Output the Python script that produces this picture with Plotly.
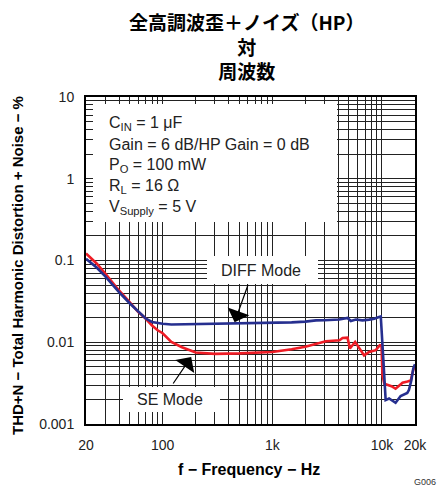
import math
import plotly.graph_objects as go

# DIFF mode THD+N (%) vs frequency (Hz)
diff_freq = [20, 25, 30, 40, 50, 60, 70, 80, 90, 100, 120, 150, 200, 300, 500, 700,
             1000, 1240, 1500, 2000, 2500, 3000, 4070, 4850, 5200, 5780, 6630, 7630,
             8500, 9400, 9750, 10300, 10800, 11600, 12400, 13300, 14800, 15900,
             17000, 17600, 18500, 19300, 20000]
diff_thd = [0.105, 0.082, 0.064, 0.041, 0.030, 0.0235, 0.0195, 0.0177, 0.0171, 0.0168,
            0.0165, 0.0166, 0.0167, 0.0168, 0.0168, 0.0170, 0.0171, 0.0173, 0.0175,
            0.0179, 0.0185, 0.0186, 0.0190, 0.0198, 0.0182, 0.0190, 0.0185, 0.0189,
            0.0194, 0.0204, 0.0207, 0.0060, 0.00196, 0.00205, 0.00192, 0.00182,
            0.0022, 0.0023, 0.0024, 0.0026, 0.0034, 0.0048, 0.0054]

# SE mode THD+N (%) vs frequency (Hz)
se_freq = [20, 25, 30, 40, 50, 60, 70, 80, 90, 100, 120, 150, 200, 300, 500, 700,
           1000, 1500, 2000, 3080, 4100, 4370, 4850, 5100, 5690, 6870, 7630, 8790,
           9550, 9900, 10100, 10500, 11200, 12200, 13300, 14300, 15400, 17100, 18300,
           19300, 20000]
se_thd = [0.122, 0.092, 0.069, 0.043, 0.031, 0.0234, 0.0195, 0.0160, 0.0140, 0.0129,
          0.0101, 0.0087, 0.0075, 0.0072, 0.0073, 0.0074, 0.0076, 0.0082, 0.0088,
          0.0103, 0.0106, 0.0113, 0.0114, 0.0084, 0.0101, 0.0069, 0.0076, 0.0080,
          0.0092, 0.0091, 0.0040, 0.0031, 0.0030, 0.0029, 0.0027, 0.0029, 0.0032,
          0.0033, 0.0034, 0.0046, 0.0051]

# Grid positions and their labels
x_grid = [20, 30, 40, 50, 60, 70, 80, 90, 100, 200, 300, 400, 500, 600, 700, 800, 900,
          1000, 2000, 3000, 4000, 5000, 6000, 7000, 8000, 9000, 10000, 20000]
x_labels = {20: "20", 100: "100", 1000: "1k", 10000: "10k", 20000: "20k"}
y_grid = [m * 10.0 ** e for e in range(-3, 1) for m in range(1, 10)] + [10]
y_labels = {0.001: "0.001", 0.01: "0.01", 0.1: "0.1", 1: "1", 10: "10"}

conditions = ["C<sub>IN</sub> = 1 μF",
              "Gain = 6 dB/HP Gain = 0 dB",
              "P<sub>O</sub> = 100 mW",
              "R<sub>L</sub> = 16 Ω",
              "V<sub>Supply</sub> = 5 V"]
title_lines = ["全高調波歪＋ノイズ（HP）", "対", "周波数"]

W, H = 446, 488
L, R, T, B = 86, 415, 97, 424
FONT = "Liberation Sans, Arial, sans-serif"
CJK = "Noto Sans CJK JP, sans-serif"


def px(x):
    return (x - L) / (R - L)


def py(y):
    return (B - y) / (B - T)


def tick_text(vals, labels):
    out = []
    for v in vals:
        key = next((k for k in labels if abs(k - v) < 1e-9 * max(k, 1)), None)
        out.append(labels[key] if key is not None else "")
    return out


def note(x, y, text, size, family=FONT, color="#222", xanchor="center", **kw):
    return dict(xref="paper", yref="paper", x=px(x), y=py(y), text=text,
                showarrow=False, xanchor=xanchor, yanchor="middle",
                font=dict(family=family, size=size, color=color), **kw)


def pointer(freq, thd, dx, dy):
    return dict(x=math.log10(freq), y=math.log10(thd), xref="x", yref="y", text="",
                showarrow=True, arrowhead=1, arrowsize=3.2, arrowwidth=1.2,
                arrowcolor="black", ax=dx, ay=dy)


fig = go.Figure()
fig.add_trace(go.Scatter(x=se_freq, y=se_thd, mode="lines",
                         line=dict(color="#ee1c25", width=2.6), name="SE Mode"))
fig.add_trace(go.Scatter(x=diff_freq, y=diff_thd, mode="lines",
                         line=dict(color="#262f8f", width=2.6), name="DIFF Mode"))

# White label panels laid over the grid
panels = [(93, 104, 337, 222), (207, 256, 318, 284), (123, 387, 220, 412)]
for x0, y0, x1, y1 in panels:
    fig.add_shape(type="rect", xref="x domain", yref="y domain",
                  x0=px(x0), x1=px(x1), y0=py(y1), y1=py(y0),
                  fillcolor="white", line=dict(width=0), layer="above")

ann = []
for i, t in enumerate(conditions):
    ann.append(note(107, 124 + i * 20.8, t, 16, xanchor="left"))
ann.append(note(261, 270, "DIFF Mode", 16))
ann.append(note(170, 399, "SE Mode", 16))
# Pointer arrows onto the two curves
ann.append(pointer(453, 0.0176, 14, -39))
ann.append(pointer(182, 0.0066, -19, 28))
# Title
ann.append(note(247, 46, "<b>" + "<br>".join(title_lines) + "</b>", 19,
                family=CJK, color="black"))
# Axis titles
ann.append(note(17, 266, "<b>THD+N − Total Harmonic Distortion + Noise − %</b>", 15,
                color="black", textangle=-90))
ann.append(note(249, 469, "<b>f − Frequency − Hz</b>", 16, color="black"))
ann.append(note(438, 482, "G006", 9, color="#333", xanchor="right"))

fig.update_layout(
    width=W, height=H,
    margin=dict(l=L, r=W - R, t=T, b=H - B, autoexpand=False),
    paper_bgcolor="white", plot_bgcolor="white",
    showlegend=False, annotations=ann,
)
fig.update_xaxes(type="log", range=[math.log10(20), math.log10(20000)],
                 tickvals=x_grid, ticktext=tick_text(x_grid, x_labels),
                 showgrid=True, gridcolor="#222", gridwidth=1, ticks="",
                 ticklabelstandoff=7,
                 showline=True, linecolor="black", linewidth=2, mirror=True,
                 tickfont=dict(family=FONT, size=14, color="#222"), zeroline=False)
fig.update_yaxes(type="log", range=[-3, 1],
                 tickvals=y_grid, ticktext=tick_text(y_grid, y_labels),
                 showgrid=True, gridcolor="#222", gridwidth=1, ticks="",
                 ticklabelstandoff=7,
                 showline=True, linecolor="black", linewidth=2, mirror=True,
                 tickfont=dict(family=FONT, size=14, color="#222"), zeroline=False)

fig.write_html("out.html")
